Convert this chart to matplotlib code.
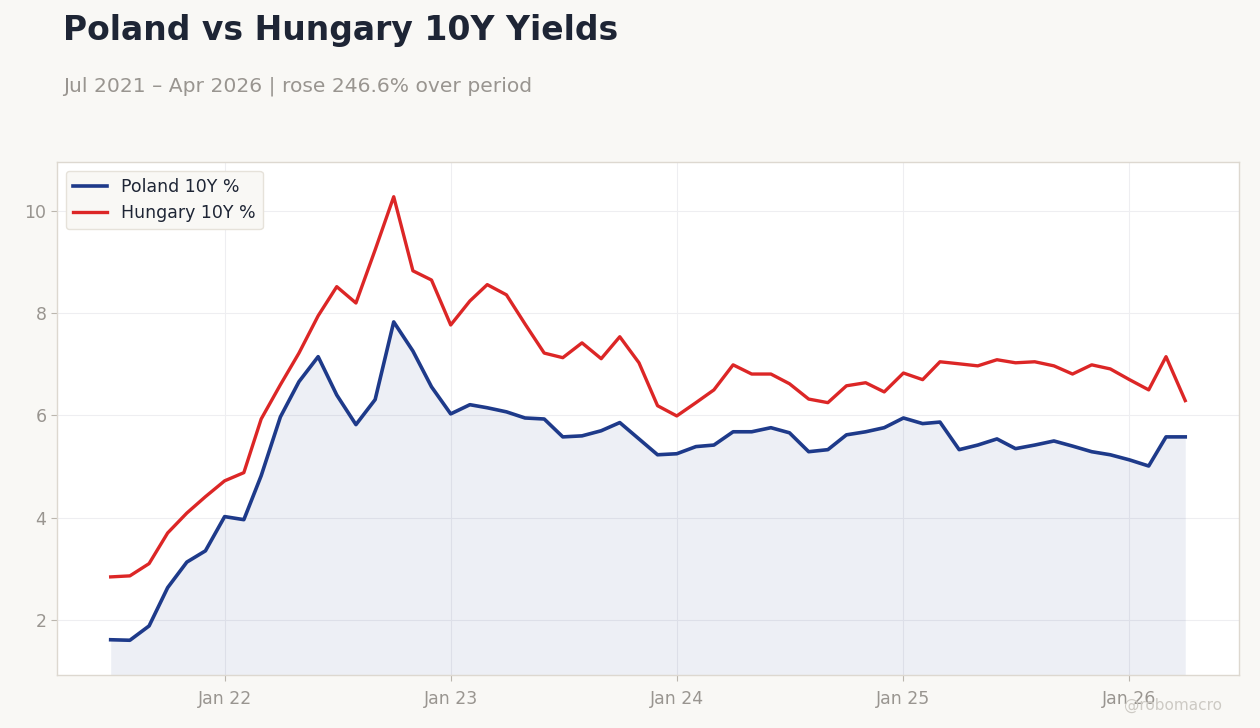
import matplotlib
matplotlib.use("Agg")
import matplotlib.pyplot as plt
import matplotlib.dates as mdates
import pandas as pd

# monthly 10Y yields, Jul 2021 - Apr 2026
months = pd.date_range("2021-07-01", periods=58, freq="MS")

poland = [1.61, 1.60, 1.88, 2.63, 3.13, 3.35, 4.02, 3.96, 4.82, 5.97,
          6.66, 7.15, 6.40, 5.82, 6.31, 7.83, 7.26, 6.56, 6.03, 6.21,
          6.15, 6.07, 5.95, 5.93, 5.58, 5.60, 5.70, 5.86, 5.54, 5.23,
          5.25, 5.39, 5.42, 5.68, 5.68, 5.76, 5.66, 5.29, 5.33, 5.62,
          5.68, 5.76, 5.95, 5.84, 5.87, 5.33, 5.42, 5.54, 5.35, 5.42,
          5.50, 5.40, 5.29, 5.23, 5.13, 5.01, 5.58, 5.58]

hungary = [2.84, 2.86, 3.10, 3.70, 4.09, 4.41, 4.72, 4.88, 5.93, 6.60,
           7.22, 7.95, 8.52, 8.20, 9.24, 10.28, 8.83, 8.65, 7.77, 8.24,
           8.56, 8.36, 7.79, 7.22, 7.13, 7.42, 7.11, 7.54, 7.03, 6.19,
           5.99, 6.25, 6.50, 6.99, 6.81, 6.81, 6.62, 6.32, 6.25, 6.58,
           6.64, 6.46, 6.83, 6.70, 7.05, 7.01, 6.97, 7.09, 7.03, 7.05,
           6.97, 6.81, 6.99, 6.91, 6.70, 6.50, 7.15, 6.29]

change = (poland[-1] / poland[0] - 1) * 100

bg = "#f9f8f5"
blue = "#1e3a8a"
red = "#dc2626"
grey = "#999590"

fig = plt.figure(figsize=(12.6, 7.28), dpi=100, facecolor=bg)
ax = fig.add_axes([0.0452, 0.0728, 0.9381, 0.7047])
ax.set_facecolor("white")

ymin, ymax = 0.92, 10.96
ax.fill_between(months, poland, ymin, color=blue, alpha=0.08, linewidth=0)
ax.plot(months, poland, color=blue, linewidth=2.6, label="Poland 10Y %")
ax.plot(months, hungary, color=red, linewidth=2.4, label="Hungary 10Y %")
ax.set_ylim(ymin, ymax)

ax.xaxis.set_major_locator(mdates.YearLocator())
ax.xaxis.set_major_formatter(mdates.DateFormatter("%b %y"))
ax.set_yticks([2, 4, 6, 8, 10])

ax.grid(True, color="#eeeef1", linewidth=0.8)
ax.set_axisbelow(True)
for s in ax.spines.values():
    s.set_color("#ddd8d0")
    s.set_linewidth(1)
ax.tick_params(colors="#bbb6ae", labelcolor=grey, labelsize=12.5, length=4)
ax.tick_params(axis="x", pad=7)

leg = ax.legend(loc="upper left", fontsize=12.5, frameon=True, facecolor=bg,
                edgecolor="#e6e2da", framealpha=1, handlelength=2.0)
for t in leg.get_texts():
    t.set_color("#1e2535")

fig.text(0.05, 0.958, "Poland vs Hungary 10Y Yields", fontsize=23.8,
         fontweight="bold", color="#1e2535", va="center", ha="left")
fig.text(0.05, 0.882, "Jul 2021 \u2013 Apr 2026 | rose %.1f%% over period" % change,
         fontsize=14.6, color=grey, va="center", ha="left")
fig.text(0.97, 0.031, "@robomacro", fontsize=11, color="#cdcac4",
         va="center", ha="right")

fig.savefig("out.png", dpi=100, facecolor=bg)
